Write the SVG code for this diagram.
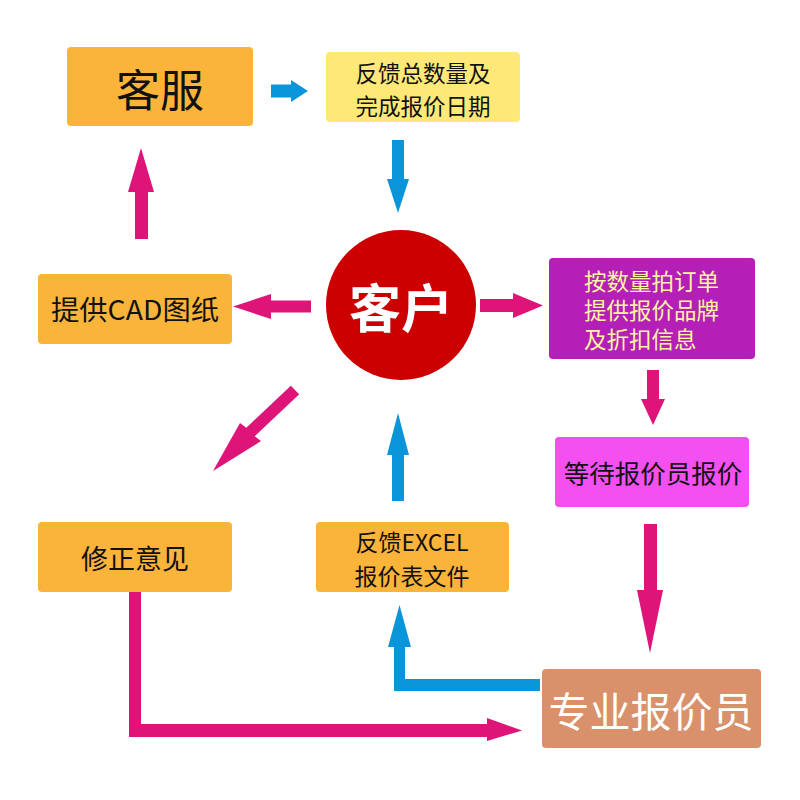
<svg xmlns="http://www.w3.org/2000/svg" width="800" height="800" viewBox="0 0 800 800">
<style>
.t{font-family:"Noto Sans CJK SC","Noto Sans",sans-serif;fill:#111;text-anchor:middle;dominant-baseline:central}
.t tspan{dominant-baseline:central}
.or{fill:#FBB43A}
.pk{fill:#DE1479}
.bl{fill:#0A95DB}
</style>
<rect width="800" height="800" fill="#fff"/>
<g id="connectors">
<polygon class="bl" points="271,84.5 291,84.5 291,80 308,91 291,102 291,97.5 271,97.5"/>
<polygon class="bl" points="392,140 404,140 404,179 409,179 398,213 387,179 392,179"/>
<polygon class="pk" points="135,239 148,239 148,192 154,192 141,148 128,192 135,192"/>
<polygon class="pk" points="311,300.5 271,300.5 271,294 233,306.5 271,319 271,312.5 311,312.5"/>
<polygon class="pk" points="480,299 513,299 513,293 543,305.5 513,318 513,312 480,312"/>
<polygon class="pk" points="647,370 659,370 659,399 665,399 653,425 641,399 647,399"/>
<polygon class="pk" points="213,471 240,423 246.3,427.7 290.8,385.7 299.2,394.3 254.7,436.3 261,441"/>
<polygon class="bl" points="392,501 404,501 404,455 409,455 398,413 387,455 392,455"/>
<polygon class="pk" points="644,524 657,524 657,590 663,590 650,653 637,590 644,590"/>
<polygon class="bl" points="540,679 405,679 405,647 411,647 399.5,605 388,647 394,647 394,691 540,691"/>
<polygon class="pk" points="129,592 129,737 487,737 487,741 522,730.5 487,718 487,724 141,724 141,592"/>
</g>
<g id="kefu">
<rect class="or" x="67" y="47" width="186" height="79" rx="4"/>
<text class="t" x="160" y="88" font-size="44">客服</text>
</g>
<g id="feedback-total">
<rect x="326" y="52" width="194" height="70" rx="4" fill="#FEE978"/>
<text class="t" font-size="22.5"><tspan x="423" y="71.5">反馈总数量及</tspan><tspan x="423" y="104.5">完成报价日期</tspan></text>
</g>
<g id="customer">
<ellipse cx="401" cy="305" rx="75" ry="75" fill="#CC0000"/>
<text class="t" x="401" y="305" font-size="52" font-weight="bold" style="fill:#fff">客户</text>
</g>
<g id="cad">
<rect class="or" x="38" y="274" width="194" height="70" rx="4"/>
<text class="t" x="135" y="308" font-size="27" textLength="168" lengthAdjust="spacingAndGlyphs">提供CAD图纸</text>
</g>
<g id="order">
<rect x="549" y="258" width="206" height="101" rx="4" fill="#B41FB7"/>
<text class="t" font-size="22.5" style="fill:#FFF4A0;text-anchor:start"><tspan x="584" y="280">按数量拍订单</tspan><tspan x="584" y="309">提供报价品牌</tspan><tspan x="584" y="338">及折扣信息</tspan></text>
</g>
<g id="wait">
<rect x="555" y="437" width="194" height="70" rx="4" fill="#F34FF1"/>
<text class="t" x="653" y="471" font-size="25.5">等待报价员报价</text>
</g>
<g id="revise">
<rect class="or" x="38" y="522" width="194" height="70" rx="4"/>
<text class="t" x="135" y="557" font-size="27">修正意见</text>
</g>
<g id="excel">
<rect class="or" x="316" y="522" width="193" height="70" rx="4"/>
<text class="t" font-size="23"><tspan x="412" y="540.5">反馈EXCEL</tspan><tspan x="412" y="574.5">报价表文件</tspan></text>
</g>
<g id="quoter">
<rect x="542" y="669" width="219" height="79" rx="4" fill="#D8916A"/>
<text class="t" x="651" y="709" font-size="41" style="fill:#fff">专业报价员</text>
</g>
</svg>
